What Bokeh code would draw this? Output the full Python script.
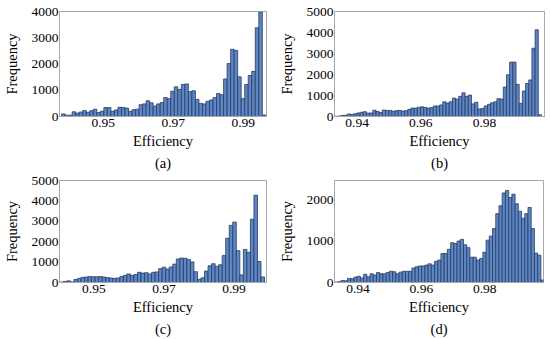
from bokeh.plotting import figure
from bokeh.layouts import column, row
from bokeh.models import Range1d, FixedTicker, Title, ColumnDataSource
from bokeh.embed import file_html
from bokeh.resources import INLINE

# ---- data ----
counts_a = [100, 50, 50, 180, 130, 170, 230, 160, 220, 280,
            150, 200, 340, 340, 200, 250, 350, 340, 320, 200,
            260, 280, 450, 480, 600, 520, 400, 480, 530, 720,
            680, 960, 1130, 1030, 1220, 1240, 950, 980, 650, 500,
            480, 580, 630, 720, 880, 830, 1430, 2020, 2560, 2520,
            1510, 680, 1220, 1560, 1720, 3380, 3980, 60]
edges_a = (0.9381, 0.99645)

counts_b = [10, 20, 50, 60, 120, 100, 130, 170, 200, 230,
            160, 170, 300, 240, 190, 310, 290, 290, 250, 280,
            290, 260, 280, 340, 400, 400, 440, 460, 430, 400,
            420, 500, 500, 550, 700, 640, 700, 880, 830, 960,
            1130, 960, 1020, 600, 680, 360, 380, 500, 580, 650,
            700, 850, 830, 1400, 1990, 2590, 2590, 1530, 620, 1210,
            1570, 1740, 3250, 4130, 80]
edges_b = (0.93294, 0.9979)

counts_c = [20, 50, 80, 30, 150, 200, 250, 270, 290, 280,
            280, 290, 270, 240, 220, 200, 220, 290, 350, 420,
            350, 390, 500, 460, 480, 420, 500, 520, 680, 750,
            660, 760, 900, 1150, 1200, 1190, 1130, 1010, 530, 160,
            230, 560, 820, 920, 790, 870, 1320, 2170, 2800, 2960,
            1560, 370, 1620, 1480, 3100, 4280, 1030, 270]
edges_c = (0.9403, 0.9987)

counts_d = [10, 20, 50, 40, 100, 90, 130, 150, 110, 200,
            140, 210, 180, 240, 210, 210, 240, 270, 260, 210,
            250, 270, 270, 270, 350, 380, 400, 400, 420, 450,
            420, 510, 540, 700, 700, 800, 960, 940, 1000, 1040,
            910, 840, 610, 610, 540, 580, 730, 1020, 1120, 1300,
            1660, 1850, 2160, 2220, 2050, 2130, 1900, 1720, 1550, 1660,
            1810, 1300, 710, 660, 60]
edges_d = (0.93263, 0.99873)

xticks_ac = [0.95, 0.97, 0.99]
xticks_bd = [0.94, 0.96, 0.98]
xlabels_ac = ["0.95", "0.97", "0.99"]
xlabels_bd = ["0.94", "0.96", "0.98"]
yticks_a = [0, 1000, 2000, 3000, 4000]
yticks_bc = [0, 1000, 2000, 3000, 4000, 5000]
yticks_d = [0, 1000, 2000]

xrange_a = (0.9375, 0.99664)
xrange_b = (0.9329, 0.99885)
xrange_c = (0.9402, 0.99926)
xrange_d = (0.9326, 0.99854)
ymax_a, ymax_b, ymax_c, ymax_d = 4000, 5000, 5000, 2460

FONT = "Liberation Serif"
FILL = "#5b86c8"
EDGE = "#2b3b5c"
FRAME = "#a8a8a8"


def make_panel(counts, edges, xr, ymax, xticks, xlabels, yticks, tag,
               width, height, bl, br, bt, bb):
    n = len(counts)
    w = (edges[1] - edges[0]) / n
    left = [edges[0] + i * w for i in range(n)]
    right = [l + w for l in left]
    src = ColumnDataSource(dict(left=left, right=right, top=counts,
                                bottom=[0] * n))
    p = figure(width=width, height=height, output_backend="svg",
               toolbar_location=None, tools="",
               x_range=Range1d(*xr), y_range=Range1d(0, ymax),
               min_border_left=bl, min_border_right=br,
               min_border_top=bt, min_border_bottom=bb)
    p.quad(left="left", right="right", top="top", bottom="bottom",
           source=src, fill_color=FILL, line_color=EDGE, line_width=0.8)
    p.grid.visible = False
    p.outline_line_color = FRAME
    p.outline_line_width = 1
    p.background_fill_color = "white"
    p.border_fill_color = "white"

    p.xaxis.ticker = FixedTicker(ticks=xticks)
    p.xaxis.major_label_overrides = {t: s for t, s in zip(xticks, xlabels)}
    p.yaxis.ticker = FixedTicker(ticks=yticks)
    p.yaxis.major_label_overrides = {t: str(t) for t in yticks}
    for ax in (p.xaxis[0], p.yaxis[0]):
        ax.axis_line_color = FRAME
        ax.major_tick_line_color = None
        ax.minor_tick_line_color = None
        ax.major_tick_out = 0
        ax.major_tick_in = 0
        ax.minor_tick_out = 0
        ax.minor_tick_in = 0
        ax.major_label_text_font = FONT
        ax.major_label_text_font_size = "13.5px"
        ax.major_label_text_color = "black"
        ax.axis_label_text_font = FONT
        ax.axis_label_text_font_size = "14.5px"
        ax.axis_label_text_font_style = "normal"
        ax.axis_label_text_color = "black"
    p.xaxis.axis_label = "Efficiency"
    p.yaxis.axis_label = "Frequency"
    p.xaxis.major_label_standoff = 2
    p.yaxis.major_label_standoff = 1
    p.xaxis.axis_label_standoff = 3
    p.yaxis.axis_label_standoff = 9
    t = Title(text=tag, align="center", text_font=FONT,
              text_font_size="14.5px", text_font_style="normal",
              text_color="black", standoff=3)
    p.add_layout(t, "below")
    return p


pa = make_panel(counts_a, edges_a, xrange_a, ymax_a, xticks_ac, xlabels_ac,
                yticks_a, "(a)", 275, 172, 53, 9, 11, 56)
pb = make_panel(counts_b, edges_b, xrange_b, ymax_b, xticks_bd, xlabels_bd,
                yticks_bc, "(b)", 275, 172, 58, 6, 11, 56)
pc = make_panel(counts_c, edges_c, xrange_c, ymax_c, xticks_ac, xlabels_ac,
                yticks_bc, "(c)", 275, 167, 53, 9, 8, 57)
pd = make_panel(counts_d, edges_d, xrange_d, ymax_d, xticks_bd, xlabels_bd,
                yticks_d, "(d)", 275, 167, 57, 7, 8, 57)

layout = column(row(pa, pb), row(pc, pd))
open("out.html", "w").write(file_html(layout, INLINE))
